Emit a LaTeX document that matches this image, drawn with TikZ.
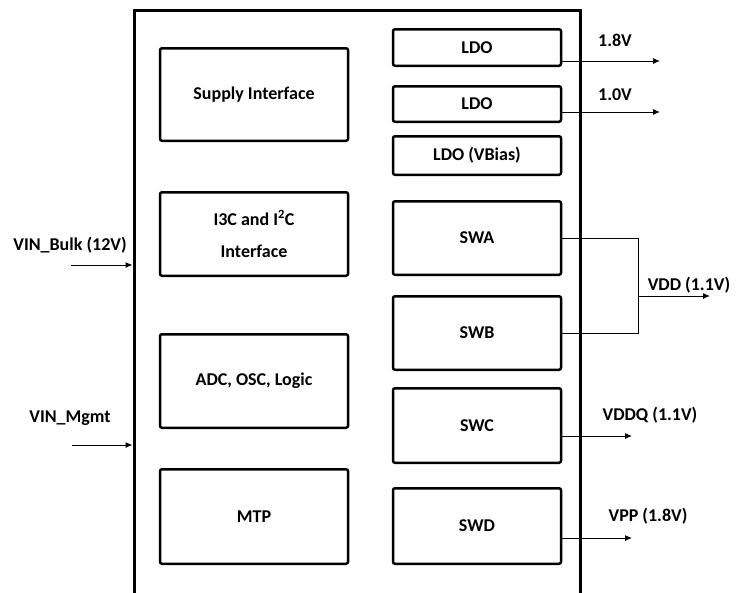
\documentclass[tikz,border=0pt]{standalone}
\usepackage{fontspec}
\setmainfont{Carlito}
\usetikzlibrary{positioning, arrows.meta}
\tikzstyle{chipbox} = [rectangle, draw=black, line width=3pt, minimum width=446pt, minimum height=600pt]
\tikzstyle{block} = [rectangle, rounded corners=2pt, draw=black, line width=2.5pt, minimum width=188pt, text centered, align=center]
\tikzstyle{regbox} = [rectangle, rounded corners=2pt, draw=black, line width=2.5pt, minimum width=168pt, text centered]
\tikzstyle{arrow} = [line width=1pt, -{Latex[length=7pt,width=6pt]}]
\tikzstyle{wire} = [line width=1pt]
\tikzstyle{every node}=[font=\fontsize{18}{32}\selectfont\bfseries]

\begin{document}
\begin{tikzpicture}[x=1pt, y=-1pt]
		\useasboundingbox (0,0) rectangle (741,592);
		\clip (0,0) rectangle (741,592);
		%chip outline
		\node (chip) [chipbox] at (357,310) {};
		
		%left column
		\node (supply) [block, minimum height=92.5pt] at (254,94.5) {Supply Interface};
		\node (bus) [block, minimum height=83.5pt, below=49pt of supply] {I3C and I\textsuperscript{2}C\\Interface};
		\node (adc) [block, minimum height=93.5pt, below=56pt of bus] {ADC, OSC, Logic};
		\node (mtp) [block, minimum height=94.5pt, below=39pt of adc] {MTP};
		
		%right column
		\node (ldoA) [regbox, minimum height=36.5pt] at (477,47.5) {LDO};
		\node (ldoB) [regbox, minimum height=35.5pt, below=18pt of ldoA] {LDO};
		\node (ldoC) [regbox, minimum height=38.5pt, below=12pt of ldoB] {LDO (VBias)};
		\node (swA) [regbox, minimum height=73.5pt, below=24pt of ldoC] {SWA};
		\node (swB) [regbox, minimum height=73.5pt, below=19pt of swA] {SWB};
		\node (swC) [regbox, minimum height=74.5pt, below=16pt of swB] {SWC};
		\node (swD) [regbox, minimum height=75.5pt, below=23pt of swC] {SWD};
		
		%labels
		\node (v18) at (615,40) {1.8V};
		\node (v10) at (615,95) {1.0V};
		\node (vdd) at (689,285) {VDD (1.1V)};
		\node (vddq) at (650,415) {VDDQ (1.1V)};
		\node (vpp) at (648,516) {VPP (1.8V)};
		\node (bulk) at (70,245) {VIN\_Bulk (12V)};
		\node (mgmt) at (70,418) {VIN\_Mgmt};
		
		%free ends
		\coordinate (endA) at (660,61);
		\coordinate (endB) at (660,112);
		\coordinate (joint) at (638,296);
		\coordinate (endV) at (710,296);
		\coordinate (endC) at (632,436);
		\coordinate (endD) at (632,538);
		\coordinate (bulkin) at (71,265);
		\coordinate (mgmtin) at (72,445);
		
		%connectors
		\draw [arrow] (endA -| ldoA.east) -- (endA);
		\draw [arrow] (endB -| ldoB.east) -- (endB);
		\draw [wire] (swA.east) -- (joint |- swA.east) -- (joint |- swB.east) -- (swB.east);
		\draw [arrow] (joint) -- (endV);
		\draw [arrow] (endC -| swC.east) -- (endC);
		\draw [arrow] (endD -| swD.east) -- (endD);
		\draw [arrow] (bulkin) -- (bulkin -| chip.west);
		\draw [arrow] (mgmtin) -- (mgmtin -| chip.west);
	\end{tikzpicture}
\end{document}
